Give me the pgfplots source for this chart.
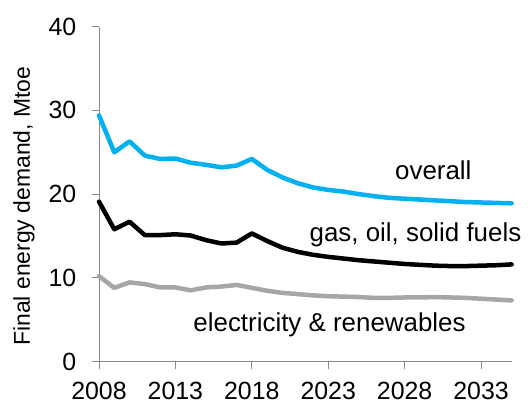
\documentclass[border=0pt]{standalone}
\usepackage{pgfplots}
\pgfplotsset{compat=1.18}
\usepackage{fontspec}
\setmainfont{Liberation Sans}
\definecolor{cblue}{RGB}{0,176,240}
\definecolor{cgray}{RGB}{166,166,166}
\definecolor{axgray}{RGB}{137,137,137}
\begin{document}
\begin{tikzpicture}
\begin{axis}[
  at={(0,0)}, anchor=south west,
  scale only axis,
  width=412.6bp, height=334.8bp,
  xmin=2008, xmax=2035,
  ymin=0, ymax=40,
  xtick={2008,2013,2018,2023,2028,2033},
  ytick={0,10,20,30,40},
  axis x line*=bottom, axis y line*=left,
  axis line style={axgray, line width=0.9bp},
  tick style={axgray, line width=0.9bp},
  major tick length=7.5bp,
  tick align=outside,
  /pgf/number format/assume math mode=true,
  /pgf/number format/1000 sep={},
  tick label style={font=\fontsize{25}{30}\selectfont, inner sep=0pt},
  yticklabel style={xshift=-15bp},
  xticklabel style={yshift=-13bp},
  ylabel={Final energy demand, Mtoe},
  ylabel style={font=\fontsize{23}{28}\selectfont, at={(axis description cs:-0.182,0.464)}, anchor=center, rotate=0},
  clip=false,
  every axis plot/.append style={line join=round, line cap=round, line width=4.5bp},
]
\addplot[cblue] coordinates {
(2008,29.4)(2009,25.0)(2010,26.3)(2011,24.6)(2012,24.2)(2013,24.25)(2014,23.75)(2015,23.5)(2016,23.2)(2017,23.4)(2018,24.2)
(2019,22.9)(2020,22.0)(2021,21.3)(2022,20.8)(2023,20.5)(2024,20.3)(2025,20.0)(2026,19.75)(2027,19.55)(2028,19.45)(2029,19.35)(2030,19.25)(2031,19.15)(2032,19.05)(2033,19.0)(2034,18.95)(2035,18.9)};
\addplot[black] coordinates {
(2008,19.1)(2009,15.8)(2010,16.7)(2011,15.1)(2012,15.1)(2013,15.2)(2014,15.05)(2015,14.5)(2016,14.1)(2017,14.2)(2018,15.3)
(2019,14.4)(2020,13.6)(2021,13.1)(2022,12.75)(2023,12.5)(2024,12.3)(2025,12.1)(2026,11.95)(2027,11.8)(2028,11.65)(2029,11.55)(2030,11.45)(2031,11.4)(2032,11.4)(2033,11.45)(2034,11.5)(2035,11.6)};
\addplot[cgray] coordinates {
(2008,10.2)(2009,8.8)(2010,9.45)(2011,9.25)(2012,8.85)(2013,8.85)(2014,8.5)(2015,8.85)(2016,8.95)(2017,9.15)(2018,8.8)
(2019,8.45)(2020,8.2)(2021,8.05)(2022,7.9)(2023,7.8)(2024,7.75)(2025,7.7)(2026,7.6)(2027,7.6)(2028,7.65)(2029,7.65)(2030,7.7)(2031,7.65)(2032,7.6)(2033,7.5)(2034,7.4)(2035,7.3)};
\node[anchor=base west, inner sep=0pt, font=\fontsize{26}{31}\selectfont] at (axis cs:2027.37,21.7) {overall};
\node[anchor=base west, inner sep=0pt, font=\fontsize{26}{31}\selectfont] at (axis cs:2021.77,14.3) {gas, oil, solid fuels};
\node[anchor=base west, inner sep=0pt, font=\fontsize{26}{31}\selectfont] at (axis cs:2014.17,3.56) {electricity \& renewables};
\end{axis}
\pgfresetboundingbox
\path (-99bp,-44.5bp) rectangle (431bp,361.5bp);
\end{tikzpicture}
\end{document}
